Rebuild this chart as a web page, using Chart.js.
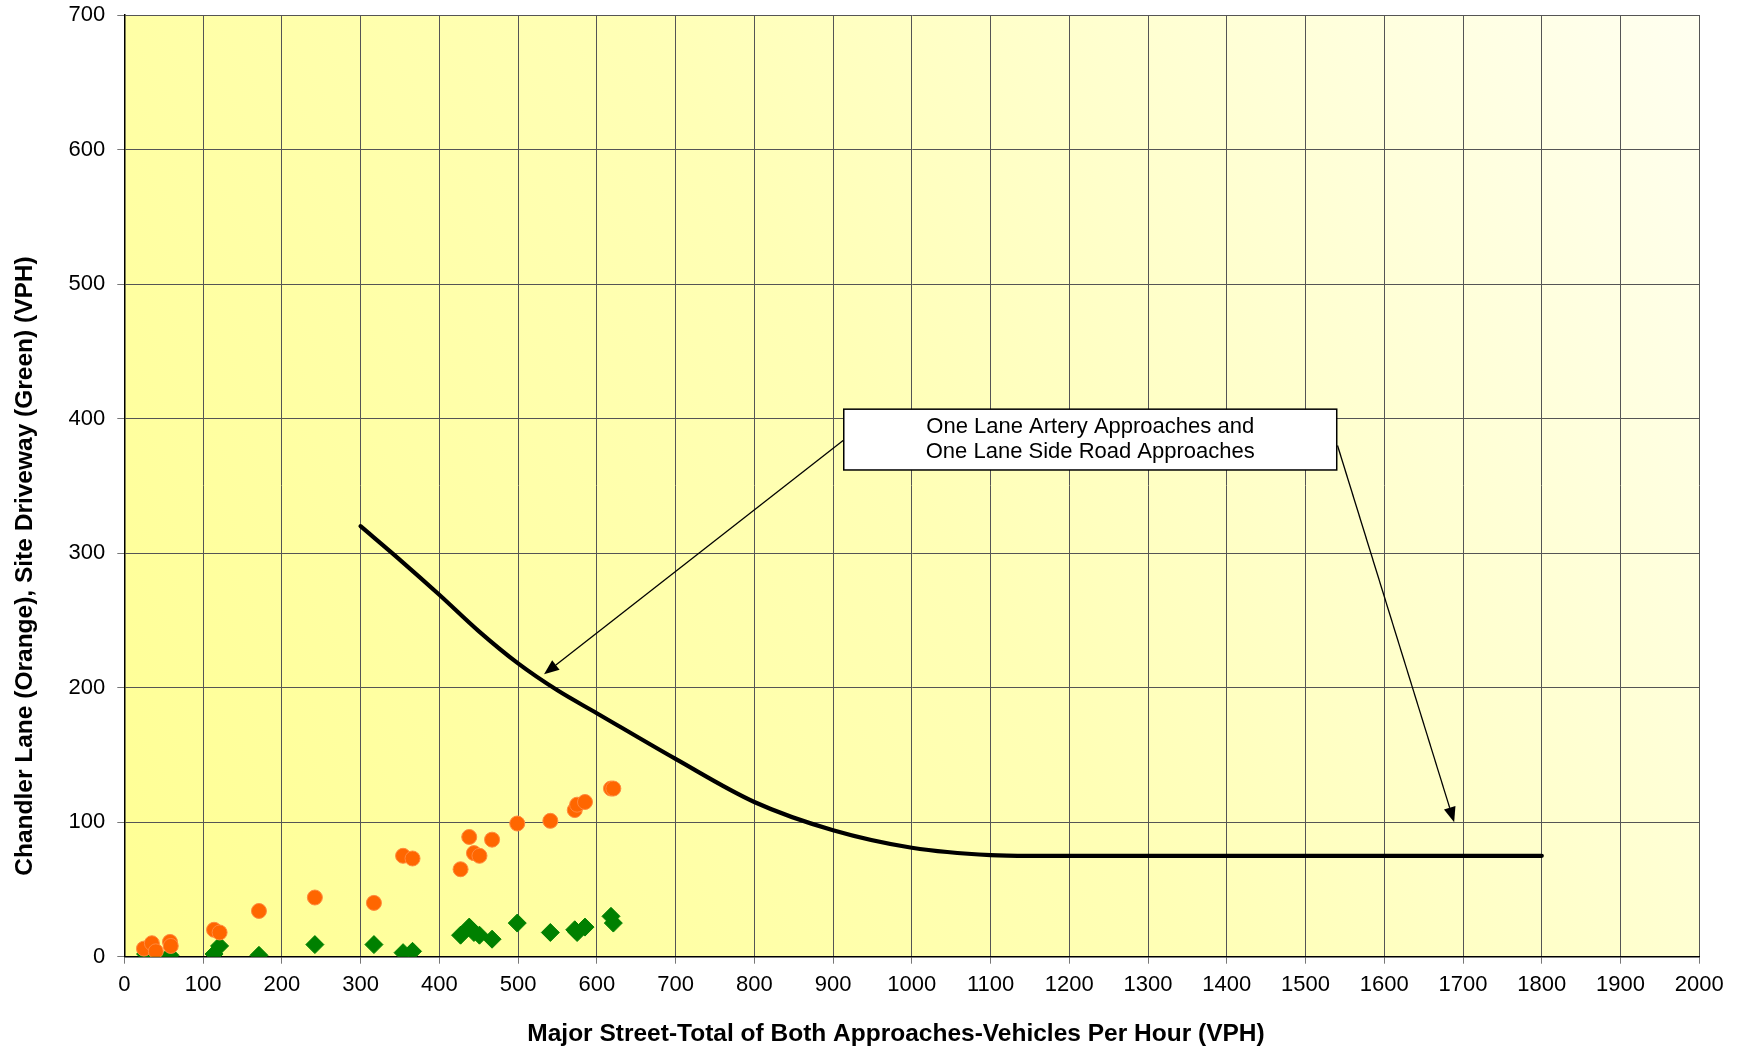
<!DOCTYPE html>
<html lang="en">
<head>
<meta charset="UTF-8">
<title>Peak Hour Volume Warrant</title>
<script src="https://cdn.jsdelivr.net/npm/chart.js"></script>
<style>
  html, body { margin: 0; padding: 0; background: #fff; }
  #wrap { width: 1746px; height: 1052px; }
</style>
</head>
<body>
<div id="wrap"><canvas id="chart"></canvas></div>
<script>
// Chandler Lane (orange) counts
const orangeX = [25, 35, 40, 58, 59, 114, 121, 171, 242, 317, 354, 366, 427, 438, 444, 451, 467, 499, 541, 572, 575, 585, 618, 621];
const orangeY = [6, 10, 4, 11, 8, 20, 18, 34, 44, 40, 75, 73, 65, 89, 77, 75, 87, 99, 101, 109, 113, 115, 125, 125];

// Site driveway (green) counts
const greenX = [27, 37, 58, 114, 121, 171, 242, 317, 354, 366, 427, 438, 444, 451, 467, 499, 541, 572, 575, 585, 618, 621];
const greenY = [2, 1, 1, 2, 8, 1, 9, 9, 3, 4, 16, 22, 18, 16, 13, 25, 18, 20, 18, 22, 30, 25];

// warrant curve: one lane artery / one lane side road
const curveX = [300, 350, 400, 450, 500, 550, 600, 700, 800, 900, 1000, 1100, 1150, 1200, 1800];
const curveY = [320, 295, 269, 242, 218, 198, 181, 147, 115, 94, 81, 75.5, 75, 75, 75];

const xTitle = 'Major Street-Total of Both Approaches-Vehicles Per Hour (VPH)';
const yTitle = 'Chandler Lane (Orange), Site Driveway (Green) (VPH)';
const noteLines = ['One Lane Artery Approaches and', 'One Lane Side Road Approaches'];

const toPts = (xs, ys) => xs.map((x, i) => ({ x, y: ys[i] }));

const FONT = "'Liberation Sans', Arial, sans-serif";

// callout box and arrows, in data units
const note = {
  box: { x1: 913.6, y1: 407, x2: 1539.6, y2: 361.8 },
  arrows: [
    { from: [913.6, 384], to: [533, 210] },
    { from: [1540.6, 380], to: [1688.7, 100] }
  ]
};

const bgPlugin = {
  id: 'bg',
  beforeDraw(chart) {
    const { ctx, chartArea: a } = chart;
    const g = ctx.createLinearGradient(a.left, a.bottom, a.right, a.top);
    g.addColorStop(0, '#ffff94');
    g.addColorStop(0.5, '#ffffb6');
    g.addColorStop(1, '#fffff0');
    ctx.save();
    ctx.fillStyle = g;
    ctx.fillRect(a.left, a.top, a.right - a.left, a.bottom - a.top);
    ctx.restore();
  }
};

function arrow(ctx, x1, y1, x2, y2) {
  const ang = Math.atan2(y2 - y1, x2 - x1);
  const len = 15, half = 6;
  const bx = x2 - len * Math.cos(ang), by = y2 - len * Math.sin(ang);
  ctx.beginPath();
  ctx.moveTo(x1, y1);
  ctx.lineTo(bx, by);
  ctx.stroke();
  ctx.beginPath();
  ctx.moveTo(x2, y2);
  ctx.lineTo(bx + half * Math.sin(ang), by - half * Math.cos(ang));
  ctx.lineTo(bx - half * Math.sin(ang), by + half * Math.cos(ang));
  ctx.closePath();
  ctx.fill();
}

const notePlugin = {
  id: 'note',
  afterDatasetsDraw(chart) {
    const { ctx, scales: { x, y } } = chart;
    ctx.save();
    ctx.strokeStyle = '#000';
    ctx.fillStyle = '#000';
    ctx.lineWidth = 1.3;
    note.arrows.forEach(a => {
      arrow(ctx, x.getPixelForValue(a.from[0]), y.getPixelForValue(a.from[1]),
        x.getPixelForValue(a.to[0]), y.getPixelForValue(a.to[1]));
    });
    const bx1 = x.getPixelForValue(note.box.x1), by1 = y.getPixelForValue(note.box.y1);
    const bx2 = x.getPixelForValue(note.box.x2), by2 = y.getPixelForValue(note.box.y2);
    ctx.fillStyle = '#fff';
    ctx.fillRect(bx1, by1, bx2 - bx1, by2 - by1);
    ctx.lineWidth = 1.5;
    ctx.strokeRect(bx1, by1, bx2 - bx1, by2 - by1);
    ctx.fillStyle = '#000';
    ctx.font = '22px ' + FONT;
    ctx.textAlign = 'center';
    ctx.textBaseline = 'middle';
    const cx = (bx1 + bx2) / 2, cy = (by1 + by2) / 2;
    ctx.fillText(noteLines[0], cx, cy - 12.5);
    ctx.fillText(noteLines[1], cx, cy + 12.5);
    ctx.restore();
  }
};

// axis titles sit a little off-centre in the original, so they are drawn here
const titlePlugin = {
  id: 'titles',
  afterDraw(chart) {
    const { ctx } = chart;
    ctx.save();
    ctx.font = 'bold 24.5px ' + FONT;
    ctx.fillStyle = '#000';
    ctx.textAlign = 'center';
    ctx.textBaseline = 'middle';
    ctx.fillText(xTitle, 896, 1034);
    ctx.translate(25, 566);
    ctx.rotate(-Math.PI / 2);
    ctx.fillText(yTitle, 0, 0);
    ctx.restore();
  }
};

new Chart(document.getElementById('chart'), {
  type: 'scatter',
  data: {
    datasets: [
      {
        label: 'Warrant',
        data: toPts(curveX, curveY),
        showLine: true,
        borderColor: '#000',
        borderWidth: 4.2,
        borderCapStyle: 'round',
        cubicInterpolationMode: 'monotone',
        pointRadius: 0,
        order: 0
      },
      {
        label: 'Chandler Lane',
        data: toPts(orangeX, orangeY),
        pointStyle: 'circle',
        pointRadius: 7.5,
        backgroundColor: '#ff6600',
        borderColor: '#ff8a3d',
        borderWidth: 1,
        order: 1
      },
      {
        label: 'Site Driveway',
        data: toPts(greenX, greenY),
        pointStyle: 'rectRot',
        pointRadius: 9,
        backgroundColor: '#008000',
        borderColor: '#008000',
        borderWidth: 1,
        order: 2
      }
    ]
  },
  options: {
    responsive: true,
    maintainAspectRatio: false,
    animation: false,
    devicePixelRatio: 1,
    layout: { padding: { top: 15, right: 46.7, left: 0, bottom: 0 } },
    plugins: {
      legend: { display: false },
      tooltip: { enabled: false }
    },
    scales: {
      x: {
        type: 'linear',
        min: 0,
        max: 2000,
        ticks: { stepSize: 100, color: '#000', font: { family: FONT, size: 22 }, padding: 8, maxRotation: 0, callback: v => String(v) },
        grid: { color: '#555', lineWidth: 1, tickLength: 7, tickColor: '#777' },
        border: { color: '#000', width: 1.5 },
        afterFit(s) { s.height = 95.3; s.paddingLeft = 0; s.paddingRight = 0; }
      },
      y: {
        type: 'linear',
        min: 0,
        max: 700,
        ticks: { stepSize: 100, color: '#000', font: { family: FONT, size: 22 }, padding: 12, callback: v => String(v) },
        grid: { color: '#555', lineWidth: 1, tickLength: 7, tickColor: '#777' },
        border: { color: '#000', width: 1.5 },
        afterFit(s) { s.width = 124.3; s.paddingTop = 0; s.paddingBottom = 0; }
      }
    }
  },
  plugins: [bgPlugin, notePlugin, titlePlugin]
});
</script>
</body>
</html>
